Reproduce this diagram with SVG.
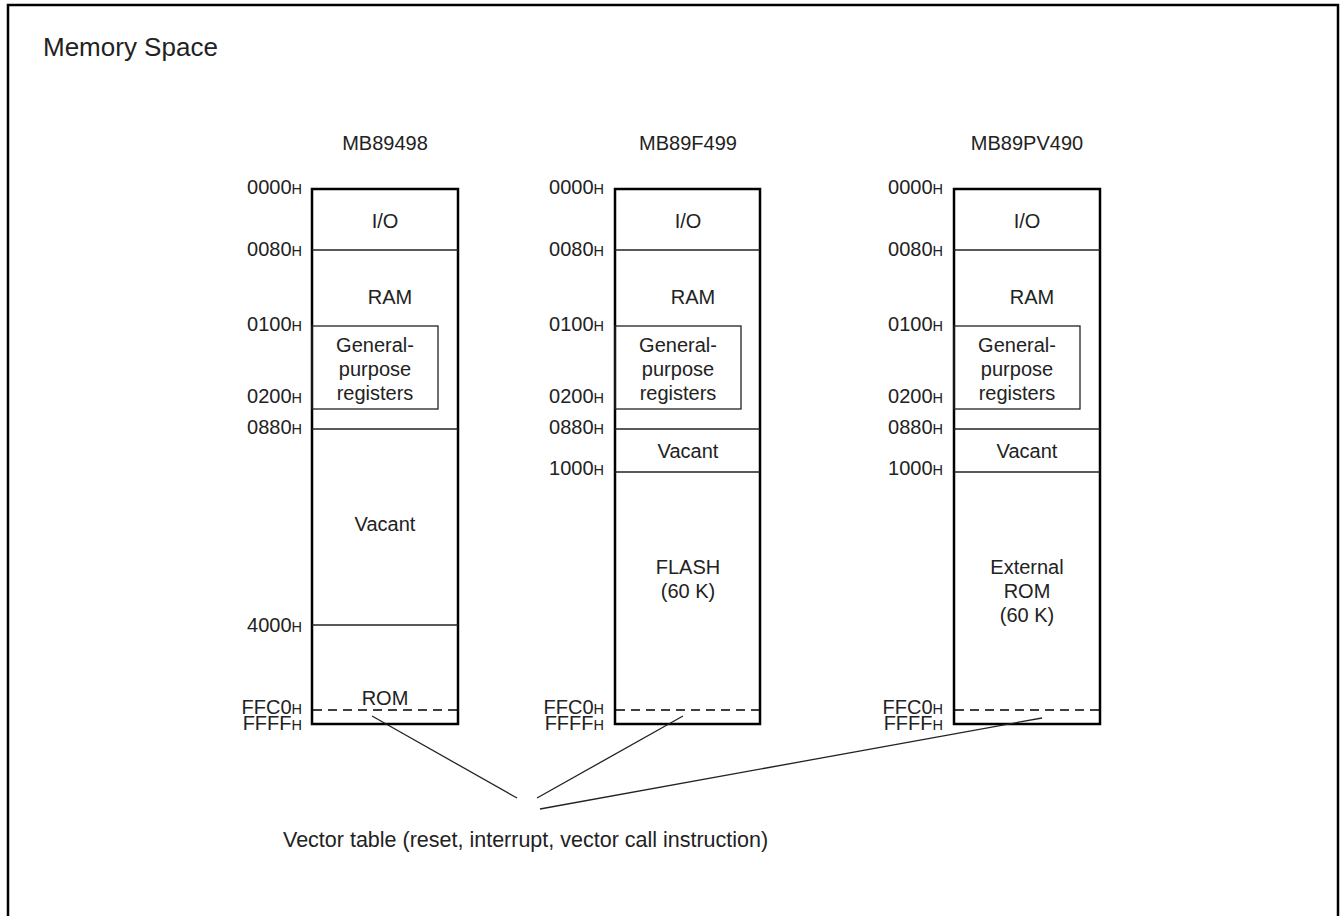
<svg xmlns="http://www.w3.org/2000/svg" width="1340" height="916" viewBox="0 0 1340 916">
<style>
text{font-family:"Liberation Sans",Arial,sans-serif;fill:#222}
.t{font-size:26px}
.h{font-size:20px;text-anchor:middle}
.c{font-size:20px;text-anchor:middle}
.a{font-size:20px;text-anchor:end}
.s{font-size:14.5px}
.box{fill:none;stroke:#000;stroke-width:2.5}
.ln{stroke:#222;stroke-width:1.3;fill:none}
.ds{stroke:#000;stroke-width:1.3;stroke-dasharray:9 6}
.v{font-size:21.5px}
</style>
<rect x="8" y="5" width="1330" height="930" fill="#fff" stroke="#000" stroke-width="2.5"/>
<text class="t" x="43" y="56">Memory Space</text>

<g id="col1">
<text class="h" x="385" y="150">MB89498</text>
<rect class="box" x="312" y="189" width="146" height="535"/>
<line class="ln" x1="312" y1="250" x2="458" y2="250"/>
<rect class="ln" x="312" y="326" width="126" height="83"/>
<line class="ln" x1="312" y1="429" x2="458" y2="429"/>
<line class="ln" x1="312" y1="625" x2="458" y2="625"/>
<line class="ds" x1="313" y1="710" x2="457" y2="710"/>
<text class="c" x="385" y="228">I/O</text>
<text class="c" x="390" y="304">RAM</text>
<text class="c" x="375" y="352">General-</text>
<text class="c" x="375" y="376">purpose</text>
<text class="c" x="375" y="400">registers</text>
<text class="c" x="385" y="531">Vacant</text>
<text class="c" x="385" y="705">ROM</text>
<text class="a" x="302" y="194">0000<tspan class="s">H</tspan></text>
<text class="a" x="302" y="256">0080<tspan class="s">H</tspan></text>
<text class="a" x="302" y="331">0100<tspan class="s">H</tspan></text>
<text class="a" x="302" y="403">0200<tspan class="s">H</tspan></text>
<text class="a" x="302" y="434">0880<tspan class="s">H</tspan></text>
<text class="a" x="302" y="632">4000<tspan class="s">H</tspan></text>
<text class="a" x="302" y="714">FFC0<tspan class="s">H</tspan></text>
<text class="a" x="302" y="730">FFFF<tspan class="s">H</tspan></text>
</g>

<g id="col2">
<text class="h" x="688" y="150">MB89F499</text>
<rect class="box" x="615" y="189" width="145" height="535"/>
<line class="ln" x1="615" y1="250" x2="760" y2="250"/>
<rect class="ln" x="615" y="326" width="126" height="83"/>
<line class="ln" x1="615" y1="429" x2="760" y2="429"/>
<line class="ln" x1="615" y1="472" x2="760" y2="472"/>
<line class="ds" x1="616" y1="710" x2="759" y2="710"/>
<text class="c" x="688" y="228">I/O</text>
<text class="c" x="693" y="304">RAM</text>
<text class="c" x="678" y="352">General-</text>
<text class="c" x="678" y="376">purpose</text>
<text class="c" x="678" y="400">registers</text>
<text class="c" x="688" y="458">Vacant</text>
<text class="c" x="688" y="574">FLASH</text>
<text class="c" x="688" y="598">(60 K)</text>
<text class="a" x="604" y="194">0000<tspan class="s">H</tspan></text>
<text class="a" x="604" y="256">0080<tspan class="s">H</tspan></text>
<text class="a" x="604" y="331">0100<tspan class="s">H</tspan></text>
<text class="a" x="604" y="403">0200<tspan class="s">H</tspan></text>
<text class="a" x="604" y="434">0880<tspan class="s">H</tspan></text>
<text class="a" x="604" y="475">1000<tspan class="s">H</tspan></text>
<text class="a" x="604" y="714">FFC0<tspan class="s">H</tspan></text>
<text class="a" x="604" y="730">FFFF<tspan class="s">H</tspan></text>
</g>

<g id="col3">
<text class="h" x="1027" y="150">MB89PV490</text>
<rect class="box" x="954" y="189" width="146" height="535"/>
<line class="ln" x1="954" y1="250" x2="1100" y2="250"/>
<rect class="ln" x="954" y="326" width="126" height="83"/>
<line class="ln" x1="954" y1="429" x2="1100" y2="429"/>
<line class="ln" x1="954" y1="472" x2="1100" y2="472"/>
<line class="ds" x1="955" y1="710" x2="1099" y2="710"/>
<text class="c" x="1027" y="228">I/O</text>
<text class="c" x="1032" y="304">RAM</text>
<text class="c" x="1017" y="352">General-</text>
<text class="c" x="1017" y="376">purpose</text>
<text class="c" x="1017" y="400">registers</text>
<text class="c" x="1027" y="458">Vacant</text>
<text class="c" x="1027" y="574">External</text>
<text class="c" x="1027" y="598">ROM</text>
<text class="c" x="1027" y="622">(60 K)</text>
<text class="a" x="943" y="194">0000<tspan class="s">H</tspan></text>
<text class="a" x="943" y="256">0080<tspan class="s">H</tspan></text>
<text class="a" x="943" y="331">0100<tspan class="s">H</tspan></text>
<text class="a" x="943" y="403">0200<tspan class="s">H</tspan></text>
<text class="a" x="943" y="434">0880<tspan class="s">H</tspan></text>
<text class="a" x="943" y="475">1000<tspan class="s">H</tspan></text>
<text class="a" x="943" y="714">FFC0<tspan class="s">H</tspan></text>
<text class="a" x="943" y="730">FFFF<tspan class="s">H</tspan></text>
</g>

<g id="connectors">
<line class="ln" x1="372" y1="716" x2="517" y2="798"/>
<line class="ln" x1="683" y1="716" x2="537" y2="798"/>
<line class="ln" x1="1042" y1="718" x2="540" y2="809"/>
</g>

<g id="vector-label">
<text class="v" x="283" y="847">Vector table (reset, interrupt, vector call instruction)</text>
</g>
</svg>
